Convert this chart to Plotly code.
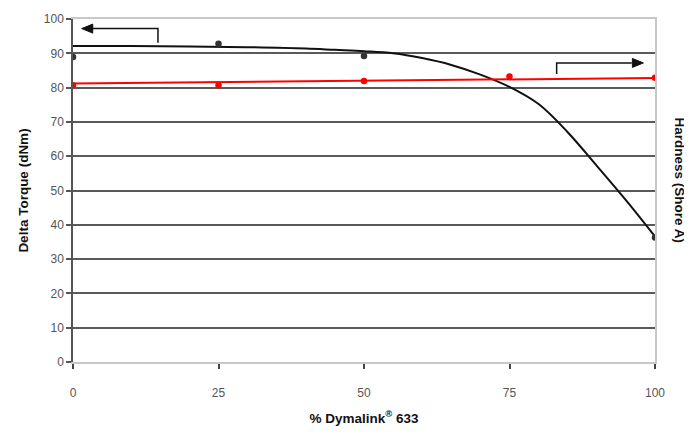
import plotly.graph_objects as go

# ---- data ----
pct = [0, 25, 50, 75, 100]
delta_torque = [88.9, 92.8, 89.2, None, 36.3]
hardness = [80.7, 80.7, 81.9, 83.2, 82.9]

torque_trend_x = [0, 10, 20, 30, 40, 45, 50, 55, 60, 65, 70, 75, 80, 85, 90, 95, 100]
torque_trend_y = [92.1, 92.1, 92.0, 91.8, 91.4, 91.0, 90.6, 90.0, 88.6, 86.6, 83.8, 80.2, 75.2, 67.0, 57.2, 47.2, 36.6]

hard_trend_x = [0, 100]
hard_trend_y = [81.2, 82.8]

x_ticks = [0, 25, 50, 75, 100]
y_ticks = [0, 10, 20, 30, 40, 50, 60, 70, 80, 90, 100]
grid_vals = [10, 20, 30, 40, 50, 60, 70, 80, 90]

FONT = "Liberation Sans, Arial, sans-serif"
ARROW = "#111111"

fig = go.Figure()

fig.add_trace(go.Scatter(x=torque_trend_x, y=torque_trend_y, mode="lines",
                         line=dict(color="#111111", width=2, shape="spline", smoothing=1.0),
                         showlegend=False, hoverinfo="skip"))
fig.add_trace(go.Scatter(x=pct, y=delta_torque, mode="markers",
                         marker=dict(color="#333333", size=6.5),
                         showlegend=False))
fig.add_trace(go.Scatter(x=hard_trend_x, y=hard_trend_y, mode="lines",
                         line=dict(color="#ff0000", width=2),
                         yaxis="y2", showlegend=False, hoverinfo="skip"))
fig.add_trace(go.Scatter(x=pct, y=hardness, mode="markers",
                         marker=dict(color="#ff0000", size=6.5),
                         yaxis="y2", showlegend=False))

# left-pointing arrow (Delta Torque -> left axis)
fig.add_shape(type="path", xref="x", yref="y",
              path="M 14.6,93.1 L 14.6,97.2 L 3.0,97.2",
              line=dict(color=ARROW, width=1.5))
fig.add_shape(type="path", xref="x", yref="y", xsizemode="pixel", ysizemode="pixel",
              xanchor=1.5, yanchor=97.2, path="M 0,0 L 11,4.5 L 11,-4.5 Z",
              fillcolor=ARROW, line=dict(color=ARROW, width=1))
# right-pointing arrow (Hardness -> right axis)
fig.add_shape(type="path", xref="x", yref="y",
              path="M 83.1,84.0 L 83.1,87.2 L 96.0,87.2",
              line=dict(color=ARROW, width=1.5))
fig.add_shape(type="path", xref="x", yref="y", xsizemode="pixel", ysizemode="pixel",
              xanchor=98.0, yanchor=87.2, path="M 0,0 L -11,4.5 L -11,-4.5 Z",
              fillcolor=ARROW, line=dict(color=ARROW, width=1))

# right axis title (reads top-to-bottom)
fig.add_annotation(x=1.0, y=0.5, xref="paper", yref="paper", xanchor="center", yanchor="middle",
                   xshift=24, yshift=10, text="<b>Hardness (Shore A)</b>", textangle=90,
                   showarrow=False, font=dict(family=FONT, size=13.5, color="#111111"))

fig.update_layout(
    width=684, height=427,
    margin=dict(l=65, r=37, t=11, b=73, autoexpand=False),
    paper_bgcolor="white", plot_bgcolor="white",
    font=dict(family=FONT, size=12, color="#555555"),
    xaxis=dict(range=[0, 100], tickvals=x_ticks, ticktext=[str(v) for v in x_ticks],
               showgrid=False, zeroline=False, showline=True, linecolor="#c8c8c8", linewidth=1.5,
               mirror=True, ticks="outside", ticklen=5, tickcolor="#444444", tickwidth=1.5,
               ticklabelstandoff=14,
               tickfont=dict(family=FONT, size=12, color="#555555"),
               title=dict(text="<b>% Dymalink<sup>®</sup> 633</b>", standoff=14,
                          font=dict(family=FONT, size=13.5, color="#111111"))),
    yaxis=dict(range=[0, 100], tickvals=y_ticks, ticktext=[str(v) for v in y_ticks],
               showgrid=False, zeroline=False, showline=True, linecolor="#555555", linewidth=1.5,
               ticks="outside", ticklen=5, tickcolor="#555555", tickwidth=1.5,
               tickfont=dict(family=FONT, size=12, color="#555555"),
               title=dict(text="<b>Delta Torque (dNm)</b>", standoff=12,
                          font=dict(family=FONT, size=13.5, color="#111111"))),
    yaxis2=dict(range=[0, 100], overlaying="y", side="right", tickvals=grid_vals,
                showticklabels=False, showgrid=True, gridcolor="#5a5a5a", gridwidth=1.5,
                zeroline=False, showline=True, linecolor="#c8c8c8", linewidth=1.5, ticks=""),
)

fig.write_html("out.html")
